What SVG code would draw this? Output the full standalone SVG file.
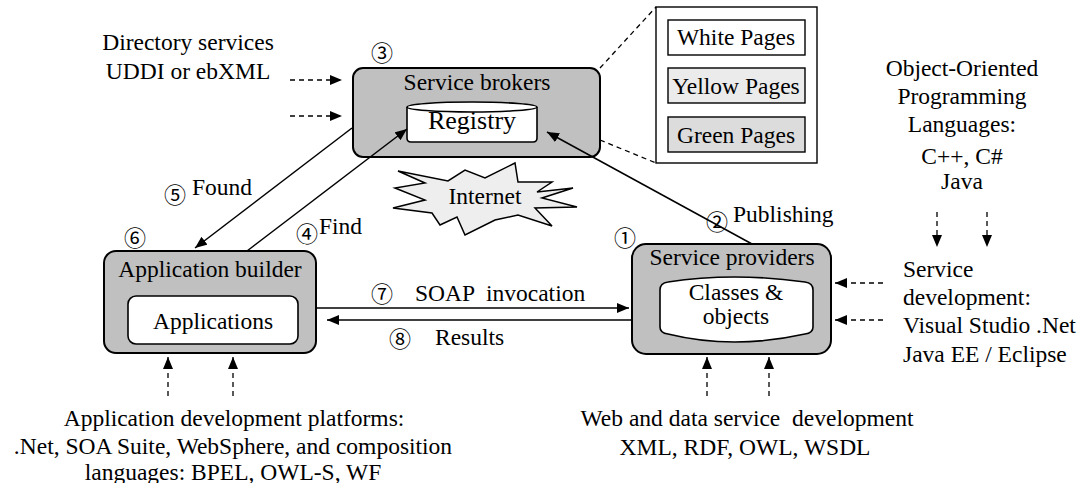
<svg xmlns="http://www.w3.org/2000/svg" width="1085" height="483" viewBox="0 0 1085 483" font-family="'Liberation Serif', 'Times New Roman', serif">
<style>
text{font-family:'Liberation Serif','Times New Roman',serif;font-size:23.5px;fill:#000}
.c{text-anchor:middle}
text.num{font-family:'Noto Sans CJK JP','DejaVu Sans',sans-serif;font-size:22px;text-anchor:middle}
.box{fill:#c0c0c0;stroke:#000;stroke-width:2}
.in{fill:#fff;stroke:#000;stroke-width:1.6}
.pg{stroke:#000;stroke-width:1.4}
.ln{fill:none;stroke:#000;stroke-width:1.5}
.dash{fill:none;stroke:#000;stroke-width:1.3;stroke-dasharray:5,4}
</style>
<defs>
<marker id="ah" markerUnits="userSpaceOnUse" markerWidth="12" markerHeight="10" refX="12" refY="5" orient="auto">
<path d="M0,0 L12,5 L0,10 Z" fill="#000"/>
</marker>
</defs>

<g id="brokers">
<rect class="box" x="353" y="68" width="247" height="89" rx="10"/>
<text class="c" x="477" y="90">Service brokers</text>
<path class="in" d="M407,107 A65,5 0 0,1 537,107 L537,138 Q537,142 533,142 L411,142 Q407,142 407,138 Z"/>
<path class="ln" d="M407,107 A65,5 0 0,0 537,107" stroke-width="1.6"/>
<text class="c" x="472" y="129" style="font-size:26px">Registry</text>
<text class="num" x="382" y="61">③</text>
</g>

<g id="pages">
<rect class="pg" x="656" y="7" width="161" height="156" fill="#fff"/>
<rect class="pg" x="668" y="20" width="137" height="35" fill="#fff"/>
<text class="c" x="736" y="45">White Pages</text>
<rect class="pg" x="668" y="68" width="137" height="35" fill="#ebebeb"/>
<text class="c" x="736" y="94">Yellow Pages</text>
<rect class="pg" x="668" y="117" width="137" height="35" fill="#dcdcdc"/>
<text class="c" x="736" y="143">Green Pages</text>
</g>

<g id="directory">
<text class="c" x="188" y="50">Directory services</text>
<text class="c" x="188" y="79">UDDI or ebXML</text>
</g>

<g id="oop">
<text class="c" x="962" y="76">Object-Oriented</text>
<text class="c" x="962" y="104">Programming</text>
<text class="c" x="962" y="132">Languages:</text>
<text class="c" x="962" y="164">C++, C#</text>
<text class="c" x="962" y="189">Java</text>
</g>

<g id="internet">
<polygon points="398,171 448,181 465,170 485,178 515,163 518,182 552,182 537,192 573,188 542,198 577,207 535,208 552,226 518,215 495,220 465,235 457,217 440,225 432,213 393,208 425,200 395,188 425,183" fill="#eeeeee" stroke="#000" stroke-width="1.5"/>
<text class="c" x="485" y="204">Internet</text>
</g>

<g id="appbuilder">
<rect class="box" x="104" y="251" width="212" height="102" rx="12"/>
<text class="c" x="210" y="277">Application builder</text>
<rect class="in" x="128" y="296" width="170" height="48" rx="8"/>
<text class="c" x="213" y="329">Applications</text>
<text class="num" x="135" y="246">⑥</text>
</g>

<g id="providers">
<rect class="box" x="632" y="244" width="199" height="110" rx="14"/>
<text class="c" x="732" y="265">Service providers</text>
<path class="in" d="M660,290 Q660,283 668,282 Q733,272 805,282 Q813,283 813,290 L813,327 Q813,333 805,334 Q733,350 668,334 Q660,333 660,327 Z"/>
<text class="c" x="736" y="300">Classes &amp;</text>
<text class="c" x="736" y="324">objects</text>
<text class="num" x="625" y="246">①</text>
</g>

<g id="servicedev">
<text x="903" y="277">Service</text>
<text x="903" y="305">development:</text>
<text x="903" y="333">Visual Studio .Net</text>
<text x="903" y="362">Java EE / Eclipse</text>
</g>

<g id="appplatforms">
<text class="c" x="234" y="426">Application development platforms:</text>
<text class="c" x="233" y="454">.Net, SOA Suite, WebSphere, and composition</text>
<text class="c" x="233" y="480">languages: BPEL, OWL-S, WF</text>
</g>

<g id="webdev">
<text class="c" x="747" y="426" xml:space="preserve">Web and data service  development</text>
<text class="c" x="745" y="455">XML, RDF, OWL, WSDL</text>
</g>

<g id="connectors">
<line class="dash" x1="600" y1="68" x2="656" y2="7"/>
<line class="dash" x1="600" y1="140" x2="656" y2="163"/>
<line class="dash" x1="290" y1="80" x2="342" y2="80" marker-end="url(#ah)"/>
<line class="dash" x1="290" y1="116" x2="342" y2="116" marker-end="url(#ah)"/>
<line class="dash" x1="937" y1="212" x2="937" y2="247" marker-end="url(#ah)"/>
<line class="dash" x1="987" y1="212" x2="987" y2="247" marker-end="url(#ah)"/>
<line class="dash" x1="883" y1="283" x2="835" y2="283" marker-end="url(#ah)"/>
<line class="dash" x1="883" y1="320" x2="835" y2="320" marker-end="url(#ah)"/>
<line class="dash" x1="168" y1="396" x2="168" y2="357" marker-end="url(#ah)"/>
<line class="dash" x1="233" y1="396" x2="233" y2="357" marker-end="url(#ah)"/>
<line class="dash" x1="707" y1="396" x2="707" y2="357" marker-end="url(#ah)"/>
<line class="dash" x1="769" y1="396" x2="769" y2="357" marker-end="url(#ah)"/>
<line class="ln" x1="352" y1="128" x2="195" y2="248" marker-end="url(#ah)"/>
<line class="ln" x1="247" y1="251" x2="407" y2="129" marker-end="url(#ah)"/>
<line class="ln" x1="752" y1="244" x2="547" y2="132" marker-end="url(#ah)"/>
<line class="ln" x1="316" y1="308" x2="629" y2="308" stroke-width="2" marker-end="url(#ah)"/>
<line class="ln" x1="632" y1="320" x2="327" y2="320" stroke-width="2" marker-end="url(#ah)"/>
<text class="num" x="175" y="203">⑤</text>
<text x="192" y="195">Found</text>
<text class="num" x="307" y="242">④</text>
<text x="319" y="234">Find</text>
<text class="num" x="717" y="230">②</text>
<text x="733" y="222">Publishing</text>
<text class="num" x="382" y="302">⑦</text>
<text x="415" y="301" xml:space="preserve">SOAP  invocation</text>
<text class="num" x="400" y="347">⑧</text>
<text x="435" y="345">Results</text>
</g>
</svg>
